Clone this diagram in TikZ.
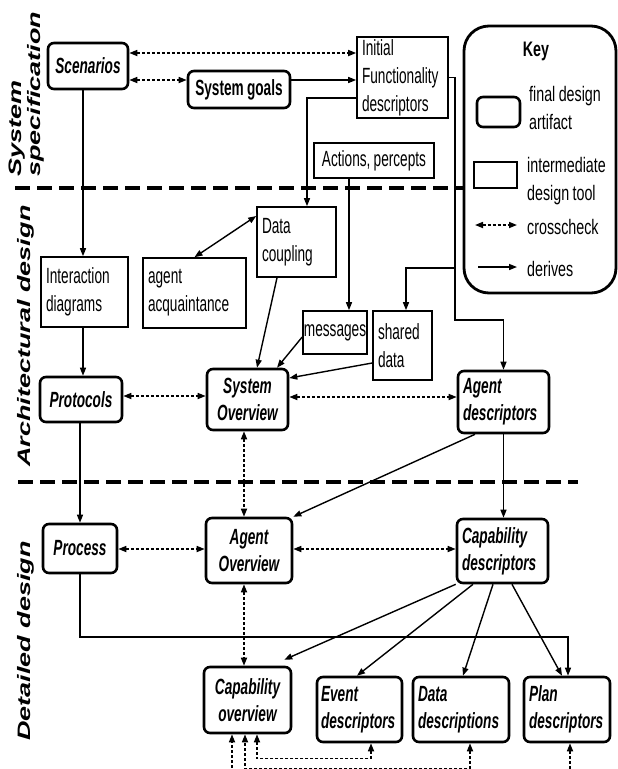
\documentclass[tikz,border=0pt]{standalone}
\usepackage{fontspec}
\setmainfont{Liberation Sans}[FakeStretch=0.62, WordSpace=0.85]
\newfontfamily\widefont{Liberation Sans}[FakeStretch=1.5]
\newfontfamily\keyfont{Liberation Sans}[FakeStretch=0.68, WordSpace=0.85]
\usetikzlibrary{arrows.meta}
\frenchspacing
\begin{document}
\begin{tikzpicture}[x=1pt,y=-1pt,
  font=\fontsize{22}{28}\selectfont,
  art/.style={draw, line width=2.6pt, rounded corners=6pt, inner sep=3pt,
    font=\fontsize{22}{27}\selectfont\bfseries\itshape, align=center},
  artl/.style={art, align=left, inner xsep=5pt},
  tool/.style={draw, line width=1.6pt, inner xsep=5pt, inner ysep=2pt, align=left},
  der/.style={line width=1.4pt, -{Triangle[length=8pt,width=6pt]}},
  der2/.style={line width=1.4pt, {Triangle[length=8pt,width=6pt]}-{Triangle[length=8pt,width=6pt]}},
  cc/.style={line width=1.6pt, dash pattern=on 3pt off 2pt,
    {Triangle[length=8pt,width=6pt]}-{Triangle[length=8pt,width=6pt]}},
  sepline/.style={line width=3.6pt, dash pattern=on 15pt off 7pt},
  lab/.style={font=\widefont\fontsize{18}{19}\selectfont\bfseries\itshape,
    rotate=90, align=left, inner sep=0pt},
  ktext/.style={font=\keyfont\fontsize{21}{28}\selectfont, align=left, inner sep=1pt, anchor=west}
]
\useasboundingbox (0,0) rectangle (618,769);

% separators
\draw[sepline] (15,188) -- (463,188);
\draw[sepline] (18,482) -- (578,482);

% side labels
\node[lab, anchor=west] (ls) at (27,177) {System\\specification};
\node[lab] (la) at (26,336) {Architectural design};
\node[lab] (ld) at (26,641) {Detailed design};

% system specification
\node[art, minimum width=80pt, minimum height=46pt] (scen) at (88,66) {Scenarios};
\node[art, font=\fontsize{22}{27}\selectfont\bfseries, minimum width=102pt, minimum height=37pt] (goals) at (239,89.5) {System goals};
\node[tool, minimum width=91pt, minimum height=81pt, text width=81pt] (ifd) at (402.5,77.5) {Initial\\Functionality\\descriptors};
\node[tool, align=center, minimum width=120pt, minimum height=35pt] (act) at (374,160.5) {Actions, percepts};

% architectural design
\node[tool, minimum width=79pt, minimum height=70pt, text width=69pt] (dcoup) at (296.5,242) {Data\\coupling};
\node[tool, minimum width=87pt, minimum height=70pt, text width=77pt] (inter) at (84.5,292) {Interaction\\diagrams};
\node[tool, minimum width=103pt, minimum height=70pt, text width=93pt] (acq) at (194.5,293) {agent\\acquaintance};
\node[tool, inner xsep=0pt, minimum width=64pt, minimum height=43pt] (msg) at (335,332.5) {messages};
\node[tool, minimum width=59pt, minimum height=69pt, text width=49pt] (shared) at (402.5,345.5) {shared\\data};
\node[art, minimum width=82pt, minimum height=45pt] (prot) at (81,399.5) {Protocols};
\node[art, minimum width=81pt, minimum height=61pt] (sysov) at (247.5,399.5) {System\\Overview};
\node[artl, minimum width=91pt, minimum height=62pt, text width=81pt] (agdesc) at (503.5,402) {Agent\\descriptors};

% detailed design
\node[art, minimum width=74pt, minimum height=49pt] (proc) at (80,548.5) {Process};
\node[art, minimum width=86pt, minimum height=65pt] (agov) at (249,550.5) {Agent\\Overview};
\node[artl, minimum width=91pt, minimum height=64pt, text width=81pt] (capdesc) at (502.5,551) {Capability\\descriptors};
\node[art, minimum width=87pt, minimum height=66pt] (capov) at (247.5,700) {Capability\\overview};
\node[artl, inner xsep=4pt, minimum width=85pt, minimum height=65pt, text width=77pt] (evdesc) at (359.5,709.5) {Event\\descriptors};
\node[artl, minimum width=96pt, minimum height=65pt, text width=86pt] (datadesc) at (461,709.5) {Data\\descriptions};
\node[artl, minimum width=86pt, minimum height=65pt, text width=76pt] (plandesc) at (567,709.5) {Plan\\descriptors};

% key
\node[draw, line width=2.8pt, rounded corners=25pt, minimum width=152pt, minimum height=267pt] (key) at (540,159.5) {};
\node[font=\keyfont\fontsize{21}{26}\selectfont\bfseries, inner sep=0pt] (keyt) at (536,51) {Key};
\node[art, minimum width=43pt, minimum height=30pt] (ksa) at (498.5,112) {};
\node[ktext] (kst) at (528,107.5) {final design\\artifact};
\node[tool, minimum width=43pt, minimum height=26pt] (kto) at (495.5,175) {};
\node[ktext] (ktt) at (526,181) {intermediate\\design tool};
\coordinate (k1) at (475,225);
\coordinate (k2) at (517,225);
\draw[cc] (k1) -- (k2);
\node[ktext] (kct) at (526,227) {crosscheck};
\coordinate (k3) at (478,267);
\coordinate (k4) at (517,267);
\draw[der] (k3) -- (k4);
\node[ktext] (kdt) at (526,269) {derives};

% connectors: system specification
\draw[cc] ([yshift=13pt]scen.east) -- ([yshift=24.5pt]ifd.west);
\draw[cc] ([yshift=-14pt]scen.east) -- ([yshift=9.5pt]goals.west);
\draw[der] ([yshift=9.5pt]goals.east) -- ([yshift=-2.5pt]ifd.west);
\draw[der] ([yshift=-20.5pt]ifd.west) -| ([xshift=10.5pt]dcoup.north);
\coordinate (j1) at (455,320);
\coordinate (j2) at (455,268);
\draw[der] (ifd.east) -| (j1) -| (agdesc.north);
\draw[der] (j2) -| ([xshift=3.5pt]shared.north);
\draw[der] ([xshift=-25pt]act.south) -- ([xshift=14pt]msg.north);

% connectors: architectural design
\draw[der2] ([yshift=26pt]dcoup.west) -- (acq.north);
\draw[der] ([xshift=-5pt]scen.south) -- ([xshift=-1.5pt]inter.north);
\draw[der] ([xshift=-1.5pt]inter.south) -- ([xshift=2pt]prot.north);
\draw[der] ([xshift=-19.5pt]dcoup.south) -- ([xshift=9.5pt]sysov.north);
\draw[der] ([yshift=-4.5pt]msg.west) -- ([xshift=29.5pt]sysov.north);
\draw[der] ([yshift=-17.5pt]shared.west) -- ([yshift=21.5pt]sysov.east);
\draw[cc] ([yshift=3.5pt]prot.east) -- ([yshift=3.5pt]sysov.west);
\draw[cc] ([yshift=2.5pt]sysov.east) -- ([yshift=5pt]agdesc.west);

% connectors: detailed design
\draw[der] ([xshift=-1pt]prot.south) -- (proc.north);
\draw[cc] ([xshift=-3.5pt]sysov.south) -- ([xshift=-5pt]agov.north);
\draw[der] ([xshift=-28.5pt]agdesc.south) -- (agov.north east);
\draw[der] (agdesc.south) -- (agdesc.south |- capdesc.north);
\draw[cc] ([yshift=-0.5pt]proc.east) -- ([yshift=1.5pt]agov.west);
\draw[cc] ([yshift=1.5pt]agov.east) -- ([yshift=2pt]capdesc.west);
\draw[cc] ([xshift=-5pt]agov.south) -- ([xshift=-3.5pt]capov.north);
\coordinate (j3) at (80,637);
\draw[der] (proc.south) -- (j3) -| ([xshift=1pt]plandesc.north);
\draw[der] (capdesc.south west) -- ([shift={(-8pt,6pt)}]capov.north east);
\draw[der] ([xshift=-29.5pt]capdesc.south) -- ([xshift=-2.5pt]evdesc.north);
\draw[der] ([xshift=-9.5pt]capdesc.south) -- ([xshift=2pt]datadesc.north);
\draw[der] ([xshift=9.5pt]capdesc.south) -- ([xshift=-5pt]plandesc.north);

% bottom crosschecks
\draw[cc] ([xshift=11.5pt]evdesc.south) -- ++(0,15) -| ([xshift=9.5pt]capov.south);
\draw[cc] ([xshift=9pt]datadesc.south) -- ++(0,25) -| ([xshift=-2.5pt]capov.south);
\begin{scope}
\clip (0,0) rectangle (618,769);
\draw[cc] ([xshift=3pt]plandesc.south) -- ++(0,32) -| ([xshift=-15.5pt]capov.south);
\end{scope}
\end{tikzpicture}
\end{document}
